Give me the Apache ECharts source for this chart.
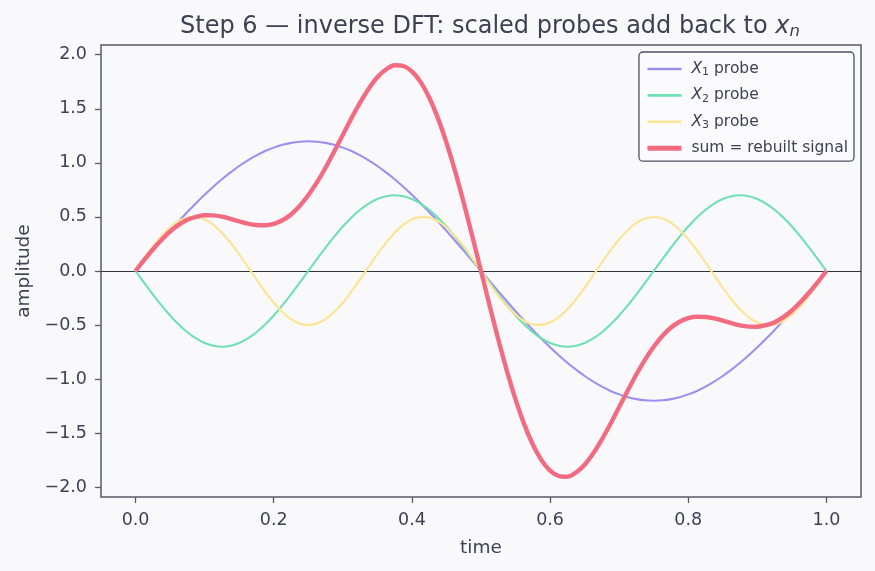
<!DOCTYPE html>
<html>
<head>
<meta charset="utf-8">
<script src="https://cdn.jsdelivr.net/npm/echarts@6/dist/echarts.min.js"></script>
<style>
  html, body { margin: 0; padding: 0; background: #f9f9fc; }
  #chart { width: 875px; height: 571px; }
</style>
</head>
<body>
<div id="chart"></div>
<script>
// time samples, step 0.0125 (81 points)
const times = Array.from({ length: 81 }, (_, i) => +(i * 0.0125).toFixed(4))

const probeX1 = [
  0, 0.094, 0.188, 0.280, 0.371, 0.459, 0.545, 0.627, 0.705, 0.779, 0.849, 0.912, 0.971, 1.023, 1.069, 1.109, 1.141, 1.167, 1.185, 1.196, 1.2,
  1.196, 1.185, 1.167, 1.141, 1.109, 1.069, 1.023, 0.971, 0.912, 0.849, 0.779, 0.705, 0.627, 0.545, 0.459, 0.371, 0.280, 0.188, 0.094, 0,
  -0.094, -0.188, -0.280, -0.371, -0.459, -0.545, -0.627, -0.705, -0.779, -0.849, -0.912, -0.971, -1.023, -1.069, -1.109, -1.141, -1.167, -1.185, -1.196, -1.2,
  -1.196, -1.185, -1.167, -1.141, -1.109, -1.069, -1.023, -0.971, -0.912, -0.849, -0.779, -0.705, -0.627, -0.545, -0.459, -0.371, -0.280, -0.188, -0.094, 0
]
const probeX2 = [
  0, -0.109, -0.216, -0.318, -0.411, -0.495, -0.566, -0.624, -0.666, -0.691, -0.7, -0.691, -0.666, -0.624, -0.566, -0.495, -0.411, -0.318, -0.216, -0.109, 0,
  0.109, 0.216, 0.318, 0.411, 0.495, 0.566, 0.624, 0.666, 0.691, 0.7, 0.691, 0.666, 0.624, 0.566, 0.495, 0.411, 0.318, 0.216, 0.109, 0,
  -0.109, -0.216, -0.318, -0.411, -0.495, -0.566, -0.624, -0.666, -0.691, -0.7, -0.691, -0.666, -0.624, -0.566, -0.495, -0.411, -0.318, -0.216, -0.109, 0,
  0.109, 0.216, 0.318, 0.411, 0.495, 0.566, 0.624, 0.666, 0.691, 0.7, 0.691, 0.666, 0.624, 0.566, 0.495, 0.411, 0.318, 0.216, 0.109, 0
]
const probeX3 = [
  0, 0.117, 0.227, 0.325, 0.405, 0.462, 0.494, 0.498, 0.476, 0.426, 0.354, 0.261, 0.155, 0.039, -0.078, -0.191, -0.294, -0.380, -0.446, -0.486, -0.5,
  -0.486, -0.446, -0.380, -0.294, -0.191, -0.078, 0.039, 0.155, 0.261, 0.354, 0.426, 0.476, 0.498, 0.494, 0.462, 0.405, 0.325, 0.227, 0.117, 0,
  -0.117, -0.227, -0.325, -0.405, -0.462, -0.494, -0.498, -0.476, -0.426, -0.354, -0.261, -0.155, -0.039, 0.078, 0.191, 0.294, 0.380, 0.446, 0.486, 0.5,
  0.486, 0.446, 0.380, 0.294, 0.191, 0.078, -0.039, -0.155, -0.261, -0.354, -0.426, -0.476, -0.498, -0.494, -0.462, -0.405, -0.325, -0.227, -0.117, 0
]
const rebuilt = [
  0, 0.102, 0.199, 0.287, 0.365, 0.426, 0.473, 0.501, 0.515, 0.514, 0.503, 0.482, 0.460, 0.438, 0.425, 0.423, 0.436, 0.469, 0.523, 0.601, 0.700,
  0.819, 0.955, 1.105, 1.258, 1.413, 1.557, 1.686, 1.792, 1.864, 1.903, 1.896, 1.847, 1.749, 1.605, 1.416, 1.187, 0.923, 0.631, 0.320, 0,
  -0.320, -0.631, -0.923, -1.187, -1.416, -1.605, -1.749, -1.847, -1.896, -1.903, -1.864, -1.792, -1.686, -1.557, -1.413, -1.258, -1.105, -0.955, -0.819, -0.700,
  -0.601, -0.523, -0.469, -0.436, -0.423, -0.425, -0.438, -0.460, -0.482, -0.503, -0.514, -0.515, -0.501, -0.473, -0.426, -0.365, -0.287, -0.199, -0.102, 0
]

const xTicks = [0, 0.2, 0.4, 0.6, 0.8, 1.0]
const yTicks = [-2, -1.5, -1, -0.5, 0, 0.5, 1, 1.5, 2]

const seriesNames = ['X1 probe', 'X2 probe', 'X3 probe', 'sum = rebuilt signal']
const colors = ['#9d8ff0', '#6fe0b4', '#fbe592', '#f26b80']
const widths = [2.1, 2.1, 2.1, 4.4]

const textColor = '#3b4252'
const frameColor = '#555b66'
const font = 'DejaVu Sans'

const pair = arr => times.map((t, i) => [t, arr[i]])
const fmtNum = v => (v < 0 ? '\u2212' + Math.abs(v).toFixed(1) : v.toFixed(1))

const chart = echarts.init(document.getElementById('chart'))

const lineSeries = (idx, data, z) => ({
  name: seriesNames[idx],
  type: 'line',
  data: pair(data),
  smooth: 0.3,
  symbol: 'none',
  z,
  lineStyle: { color: colors[idx], width: widths[idx] },
  itemStyle: { color: colors[idx] }
})

chart.setOption({
  backgroundColor: '#f9f9fc',
  animation: false,
  textStyle: { fontFamily: font },
  title: {
    text: 'Step 6 \u2014 inverse DFT: scaled probes add back to {i|x}{s|n}',
    left: 485,
    textAlign: 'center',
    top: 8,
    textStyle: {
      fontFamily: font,
      fontSize: 24,
      fontWeight: 'normal',
      color: textColor,
      rich: {
        i: { fontFamily: font, fontSize: 24, fontStyle: 'italic', color: textColor },
        s: { fontFamily: font, fontSize: 16.5, fontStyle: 'italic', color: textColor, verticalAlign: 'bottom', padding: [10, 0, 0, 0] }
      }
    }
  },
  legend: {
    orient: 'vertical',
    right: 21,
    top: 52,
    padding: [9, 6, 5, 6],
    itemWidth: 34,
    itemHeight: 14,
    itemGap: 9.4,
    borderColor: '#4c525e',
    borderWidth: 1.3,
    borderRadius: 4,
    backgroundColor: '#fbfbfd',
    itemStyle: { opacity: 0 },
    data: seriesNames.map((name, i) => ({ name, lineStyle: { width: i === 3 ? 5 : 2.6 } })),
    formatter: name => {
      const m = name.match(/^X(\d) probe$/)
      return m ? '{i|X}{s|' + m[1] + '} probe' : name
    },
    textStyle: {
      fontFamily: font,
      fontSize: 15.5,
      color: textColor,
      padding: [0, 0, 0, 5],
      rich: {
        i: { fontFamily: font, fontSize: 15.5, fontStyle: 'italic', color: textColor },
        s: { fontFamily: font, fontSize: 11, color: textColor, verticalAlign: 'bottom', padding: [7, 0, 0, 0] }
      }
    }
  },
  grid: {
    left: 101,
    right: 14,
    top: 45,
    bottom: 74,
    show: true,
    borderColor: frameColor,
    borderWidth: 1.5,
    backgroundColor: 'transparent'
  },
  xAxis: {
    type: 'value',
    min: -0.05,
    max: 1.05,
    name: 'time',
    nameLocation: 'middle',
    nameGap: 42,
    nameTextStyle: { fontFamily: font, fontSize: 18.5, color: textColor },
    splitLine: { show: false },
    axisLine: { show: false, onZero: false },
    axisTick: { show: true, customValues: xTicks, length: 6, lineStyle: { color: frameColor, width: 1.3 } },
    axisLabel: { customValues: xTicks, formatter: fmtNum, fontFamily: font, fontSize: 17.5, color: textColor, margin: 14 }
  },
  yAxis: {
    type: 'value',
    min: -2.09,
    max: 2.09,
    name: 'amplitude',
    nameLocation: 'middle',
    nameGap: 67,
    nameRotate: 90,
    nameTextStyle: { fontFamily: font, fontSize: 18.5, color: textColor },
    splitLine: { show: false },
    axisLine: { show: false, onZero: false },
    axisTick: { show: true, customValues: yTicks, length: 6, lineStyle: { color: frameColor, width: 1.3 } },
    axisLabel: { customValues: yTicks, formatter: fmtNum, fontFamily: font, fontSize: 17.5, color: textColor, margin: 14 }
  },
  series: [
    {
      ...lineSeries(0, probeX1, 3),
      markLine: {
        silent: true,
        symbol: 'none',
        label: { show: false },
        lineStyle: { color: '#2e3440', width: 1, type: 'solid' },
        data: [{ yAxis: 0 }],
        z: 2
      }
    },
    lineSeries(1, probeX2, 4),
    lineSeries(2, probeX3, 5),
    lineSeries(3, rebuilt, 6)
  ]
})
</script>
</body>
</html>
